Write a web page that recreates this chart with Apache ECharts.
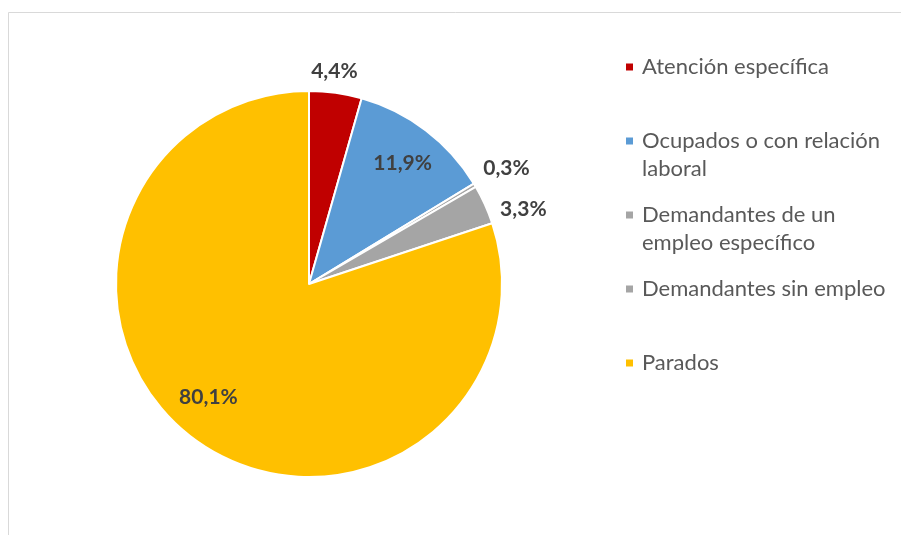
<!DOCTYPE html>
<html>
<head>
<meta charset="utf-8">
<script src="https://cdn.jsdelivr.net/npm/echarts@6/dist/echarts.min.js"></script>
<style>
  html, body { margin: 0; padding: 0; background: #fff; }
  #chart { width: 901px; height: 535px; }
</style>
</head>
<body>
<div id="chart"></div>
<script>
// categories and shares (%)
const categories = [
  "Atención específica",
  "Ocupados o con relación laboral",
  "Demandantes de un empleo específico",
  "Demandantes sin empleo",
  "Parados"
];
const values = [4.4, 11.9, 0.3, 3.3, 80.1];
const legendLines = [
  ["Atención específica"],
  ["Ocupados o con relación", "laboral"],
  ["Demandantes de un", "empleo específico"],
  ["Demandantes sin empleo"],
  ["Parados"]
];
const colors = ["#C00000", "#5B9BD5", "#A5A5A5", "#A5A5A5", "#FFC000"];

// where each value label sits: fraction of radius, and fraction along the slice
const labelRadius = [1.11, 0.79, 1.185, 1.176, 0.785];
const labelTurn = [0.43, 0.515, 0.94, 0.93, 0.52];

const CX = 309, CY = 284, R = 193;
const FONT = "Lato";

const total = values.reduce((a, b) => a + b, 0);

function labelSpot(i) {
  let before = 0;
  for (let k = 0; k < i; k++) before += values[k];
  const ang = ((before + values[i] * labelTurn[i]) / total) * 2 * Math.PI;
  const r = R * labelRadius[i];
  return { x: CX + r * Math.sin(ang), y: CY - r * Math.cos(ang) };
}

// every legend entry is three lines high, the first text line sits in the middle
// so it lines up with the square marker
function legendText(name) {
  const lines = legendLines[categories.indexOf(name)];
  return lines.length > 1 ? "\n" + lines.join("\n") : "\n" + lines[0] + "\n";
}

const chart = echarts.init(document.getElementById("chart"), null, { renderer: "canvas" });

chart.setOption({
  backgroundColor: "#fff",
  animation: false,
  graphic: [{
    type: "rect",
    shape: { x: 8.5, y: 12.5, width: 1200, height: 1200 },
    style: { fill: "none", stroke: "#d9d9d9", lineWidth: 1 },
    silent: true
  }],
  legend: {
    orient: "vertical",
    left: 624,
    top: 25,
    padding: 0,
    itemGap: -10,
    itemWidth: 9,
    itemHeight: 9,
    icon: "rect",
    selectedMode: false,
    formatter: legendText,
    data: categories,
    textStyle: {
      fontFamily: FONT,
      fontSize: 22,
      lineHeight: 28,
      padding: [0, 0, 0, 3],
      color: "#595959"
    }
  },
  series: [{
    type: "pie",
    center: [CX, CY],
    radius: R,
    startAngle: 90,
    clockwise: true,
    avoidLabelOverlap: false,
    itemStyle: { borderColor: "#fff", borderWidth: 2 },
    label: {
      show: true,
      formatter: (p) => values[p.dataIndex].toFixed(1).replace(".", ",") + "%",
      fontFamily: FONT,
      fontWeight: "bold",
      fontSize: 21,
      color: "#404040"
    },
    labelLine: { show: false },
    labelLayout: (params) => {
      const s = labelSpot(params.dataIndex);
      return { x: s.x, y: s.y, align: "center", verticalAlign: "middle" };
    },
    emphasis: { disabled: true },
    data: categories.map((name, i) => ({
      name: name,
      value: values[i],
      itemStyle: { color: colors[i] }
    }))
  }]
});
</script>
</body>
</html>
